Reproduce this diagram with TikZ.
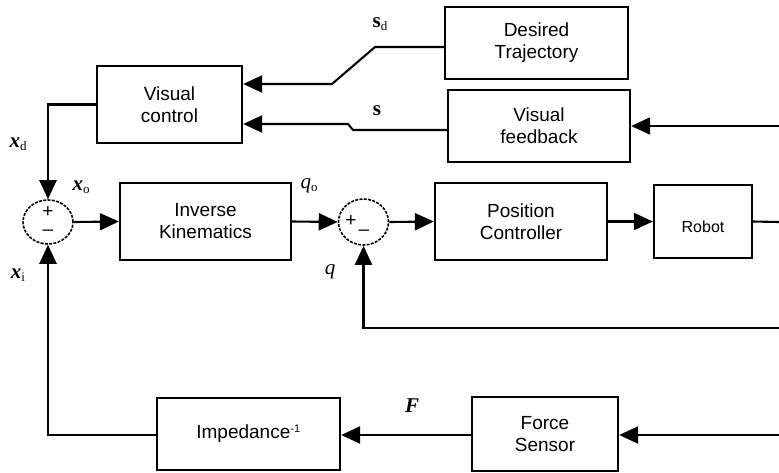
\documentclass[tikz,border=0pt]{standalone}
\usepackage{fontspec}
\setmainfont{Liberation Sans}
\newfontfamily\tms{Liberation Serif}
\usetikzlibrary{arrows.meta,shapes.geometric}

\newcommand{\lowidx}[1]{\raisebox{-2.5pt}{\fontsize{13}{13}\selectfont\normalfont\tms #1}}

\tikzset{
    blk/.style={draw, line width=2.3pt, align=center, inner sep=0pt,
        font=\fontsize{19}{22}\selectfont},
    sumnode/.style={draw, ellipse, line width=1.6pt, dash pattern=on 3pt off 1.3pt,
        inner sep=0pt},
    sig/.style={line width=2.1pt},
    arr/.style={sig, -{Triangle[length=19pt,width=17pt]}},
    lbl/.style={inner sep=0pt, font=\tms\fontsize{21}{21}\selectfont},
    sign/.style={inner sep=0pt, font=\fontsize{19}{19}\selectfont}
}

\begin{document}
\begin{tikzpicture}[x=1pt, y=-1pt]
        \useasboundingbox (0,0) rectangle (779,472);

        % Blocks
        \node[blk, minimum width=145pt, minimum height=77pt] (vc)  at (169.5,104.5) {Visual\\control};
        \node[blk, minimum width=183pt, minimum height=72pt] (dt)  at (536.5,43)    {Desired\\Trajectory};
        \node[blk, minimum width=182pt, minimum height=72pt] (vf)  at (539,126)     {Visual\\feedback};
        \node[blk, minimum width=171pt, minimum height=77pt] (ik)  at (205.5,221.5) {Inverse\\Kinematics};
        \node[blk, minimum width=172pt, minimum height=77pt] (pc)  at (521,221.5)   {Position\\Controller};
        \node[blk, minimum width=98pt,  minimum height=73pt, font=\fontsize{16}{18}\selectfont]
              (rb) at (703,221.5) {\smash{\raisebox{-11pt}{Robot}}};
        \node[blk, minimum width=183pt, minimum height=72pt] (imp) at (248.5,434)   {Impedance\textsuperscript{\fontsize{11}{11}\selectfont -1}};
        \node[blk, minimum width=146pt, minimum height=74pt] (fs)  at (545,434)     {Force\\Sensor};

        % Summing junctions
        \node[sumnode, minimum width=50pt, minimum height=44pt] (s1) at (48,222) {};
        \node[sumnode, minimum width=50pt, minimum height=46pt] (s2) at (363.5,222) {};
        \node[sign] (s1p) at (48,212)  {+};
        \node[sign] (s1m) at (48,233)  {\textendash};
        \node[sign] (s2p) at (351,221) {+};
        \node[sign] (s2m) at (364,233) {\textendash};

        % Bend points
        \coordinate (sdA) at (375,47);
        \coordinate (sdB) at (332,84);
        \coordinate (sA)  at (353,130);
        \coordinate (sB)  at (348,124);
        \coordinate (vfin) at (779,126);
        \coordinate (rbout) at (779,222);
        \coordinate (qin) at (779,328);
        \coordinate (qbend) at (363.5,328);
        \coordinate (fsin) at (779,435);

        % Connectors
        \draw[arr] ([yshift=-4pt]dt.west) -- (sdA) -- (sdB) -- (vc.east |- sdB);
        \draw[arr] ([yshift=-4pt]vf.west) -- (sA) -- (sB) -- (vc.east |- sB);
        \draw[arr] (vfin) -- (vf.east |- vfin);
        \draw[arr] (vc.west) -| (s1.north);
        \draw[arr] (s1.east) -- (ik.west);
        \draw[arr] (ik.east) -- (s2.west);
        \draw[arr] (s2.east) -- (pc.west);
        \draw[arr] (pc.east) -- (rb.west);
        \draw[sig] (rb.east) -- (rbout);
        \draw[arr] (qin) -- (qbend) -- (s2.south);
        \draw[arr] (fsin) -- (fs.east |- fsin);
        \draw[arr] (fs.west |- fsin) -- (imp.east |- fsin);
        \draw[arr] (imp.west |- fsin) -| (s1.south);

        % Signal labels
        \node[lbl] (lxd) at (18,144)  {\bfseries\itshape x\lowidx{d}};
        \node[lbl] (lxo) at (81,187)  {\bfseries\itshape x\lowidx{o}};
        \node[lbl] (lxi) at (18,275)  {\bfseries\itshape x\lowidx{i}};
        \node[lbl] (lqo) at (309,186) {\itshape q\lowidx{o}};
        \node[lbl] (lq)  at (330,272) {\itshape q};
        \node[lbl] (lsd) at (380,24)  {\bfseries s\lowidx{d}};
        \node[lbl] (ls)  at (377,111) {\bfseries s};
        \node[lbl] (lF)  at (412,406) {\bfseries\itshape F};
\end{tikzpicture}
\end{document}
